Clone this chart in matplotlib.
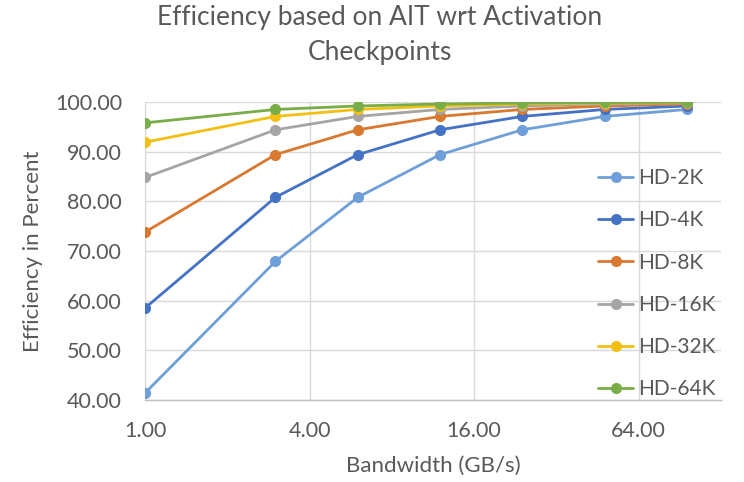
import matplotlib
matplotlib.use("Agg")
import matplotlib.pyplot as plt
from matplotlib.ticker import FixedLocator, FuncFormatter, NullLocator

plt.rcParams['font.family'] = ['Lato', 'DejaVu Sans']

bandwidth = [1, 3, 6, 12, 24, 48, 96]
series_names = ["HD-2K", "HD-4K", "HD-8K", "HD-16K", "HD-32K", "HD-64K"]
hd_2k = [41.4, 67.9, 80.8, 89.4, 94.4, 97.1, 98.5]
hd_4k = [58.5, 80.8, 89.4, 94.4, 97.1, 98.5, 99.2]
hd_8k = [73.8, 89.4, 94.4, 97.1, 98.5, 99.2, 99.6]
hd_16k = [84.8, 94.4, 97.1, 98.5, 99.2, 99.6, 99.8]
hd_32k = [91.9, 97.1, 98.5, 99.2, 99.6, 99.8, 99.9]
hd_64k = [95.8, 98.5, 99.2, 99.6, 99.8, 99.9, 99.95]
colors = ["#6F9FD8", "#4472C4", "#D9782F", "#A5A5A5", "#F2C014", "#78AD48"]
x_ticks = [1, 4, 16, 64]
y_ticks = [40, 50, 60, 70, 80, 90, 100]

W, H = 744, 482
fig = plt.figure(figsize=(W / 100, H / 100), dpi=100)
ax = fig.add_axes([145 / W, (H - 400) / H, 576 / W, 298 / H])

text_col = "#595959"
for name, vals, c in zip(series_names, [hd_2k, hd_4k, hd_8k, hd_16k, hd_32k, hd_64k], colors):
    ax.plot(bandwidth, vals, color=c, lw=2.0, marker="o", markersize=7,
            label=name, solid_capstyle="round", zorder=3)

ax.set_xscale("log", base=2)
ax.set_xlim(1, 128)
ax.set_ylim(40, 100)
ax.xaxis.set_major_locator(FixedLocator(x_ticks))
ax.xaxis.set_minor_locator(NullLocator())
ax.yaxis.set_major_locator(FixedLocator(y_ticks))
ax.xaxis.set_major_formatter(FuncFormatter(lambda v, p: f"{v:.2f}"))
ax.yaxis.set_major_formatter(FuncFormatter(lambda v, p: f"{v:.2f}"))

ax.grid(True, which="major", color="#D9D9D9", lw=1.0, zorder=0)
ax.set_axisbelow(True)
for s in ["top", "right"]:
    ax.spines[s].set_visible(False)
ax.spines["left"].set_color("#D9D9D9")
ax.spines["bottom"].set_color("#BFBFBF")
ax.spines["bottom"].set_linewidth(1.0)
ax.tick_params(axis="both", length=0, labelsize=15.5, labelcolor=text_col)
ax.tick_params(axis="y", pad=16.5)
ax.tick_params(axis="x", pad=15)

ax.set_xlabel("Bandwidth (GB/s)", fontsize=16, color=text_col)
ax.set_ylabel("Efficiency in Percent", fontsize=16, color=text_col)
ax.xaxis.set_label_coords(433 / W, 1 - 466 / H, transform=fig.transFigure)
ax.xaxis.label.set_va("center")
ax.yaxis.set_label_coords(33 / W, 1 - 251 / H, transform=fig.transFigure)
ax.yaxis.label.set_va("center")

fig.text(380 / W, 1 - 18 / H, "Efficiency based on AIT wrt Activation",
         ha="center", va="center", fontsize=19, color=text_col)
fig.text(380 / W, 1 - 52 / H, "Checkpoints",
         ha="center", va="center", fontsize=19, color=text_col)

leg = ax.legend(loc="upper left", bbox_to_anchor=(598 / W, 1 - 168 / H),
                bbox_transform=fig.transFigure, frameon=False, fontsize=15,
                labelcolor=text_col, handlelength=1.7, handletextpad=0.25,
                labelspacing=1.07, borderaxespad=0, borderpad=0)

fig.savefig("out.png", dpi=100, facecolor="white")
